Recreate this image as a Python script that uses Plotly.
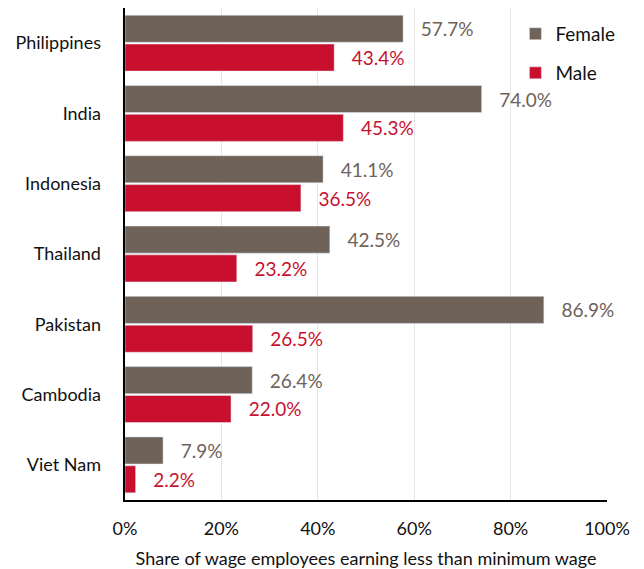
import plotly.graph_objects as go

countries = ["Philippines", "India", "Indonesia", "Thailand", "Pakistan", "Cambodia", "Viet Nam"]
female = [57.7, 74.0, 41.1, 42.5, 86.9, 26.4, 7.9]
male = [43.4, 45.3, 36.5, 23.2, 26.5, 22.0, 2.2]
tick_vals = [0, 20, 40, 60, 80, 100]
tick_text = ["0%", "20%", "40%", "60%", "80%", "100%"]

FEMALE_C = "#6E6259"
MALE_C = "#C8102E"
FONT = "Lato, 'Open Sans', sans-serif"
PAD = "\u00a0\u00a0\u00a0"

fig = go.Figure()
fig.add_trace(go.Bar(
    y=countries, x=female, name="Female", orientation="h",
    legend="legend", showlegend=True,
    marker=dict(color=FEMALE_C),
    texttemplate=PAD + "%{x:.1f}%", textposition="outside",
    textfont=dict(color=FEMALE_C, size=19, family=FONT),
    cliponaxis=False,
))
fig.add_trace(go.Bar(
    y=countries, x=male, name="Male", orientation="h",
    legend="legend2", showlegend=True,
    marker=dict(color=MALE_C),
    texttemplate=PAD + "%{x:.1f}%", textposition="outside",
    textfont=dict(color=MALE_C, size=19, family=FONT),
    cliponaxis=False,
))

legend_common = dict(xanchor="left", yanchor="top",
                     font=dict(size=19, color="#111111"),
                     itemwidth=30, bgcolor="rgba(0,0,0,0)")

fig.update_layout(
    width=636, height=561,
    showlegend=True,
    margin=dict(l=117, r=37, t=0, b=69),
    paper_bgcolor="white", plot_bgcolor="white",
    barmode="group", bargap=0.18, bargroupgap=0.06,
    font=dict(family=FONT, size=18, color="#111111"),
    legend=dict(x=0.81, y=0.986, visible=True, **legend_common),
    legend2=dict(x=0.81, y=0.9065, visible=True, **legend_common),
    xaxis=dict(
        range=[0, 100], tickvals=tick_vals, ticktext=tick_text,
        showgrid=True, gridcolor="#E6E6E6", gridwidth=1,
        showline=True, linecolor="black", linewidth=2,
        zeroline=False, ticks="", ticklen=0, automargin=False,
        ticklabelstandoff=11,
        tickfont=dict(size=18),
        title=dict(text="Share of wage employees earning less than minimum wage",
                   font=dict(size=18), standoff=15),
    ),
    yaxis=dict(
        categoryorder="array", categoryarray=countries,
        autorange="reversed", automargin=False,
        showline=True, linecolor="black", linewidth=2,
        ticks="", ticksuffix="    ", tickfont=dict(size=18),
        showgrid=False,
    ),
)

fig.write_html("out.html")
